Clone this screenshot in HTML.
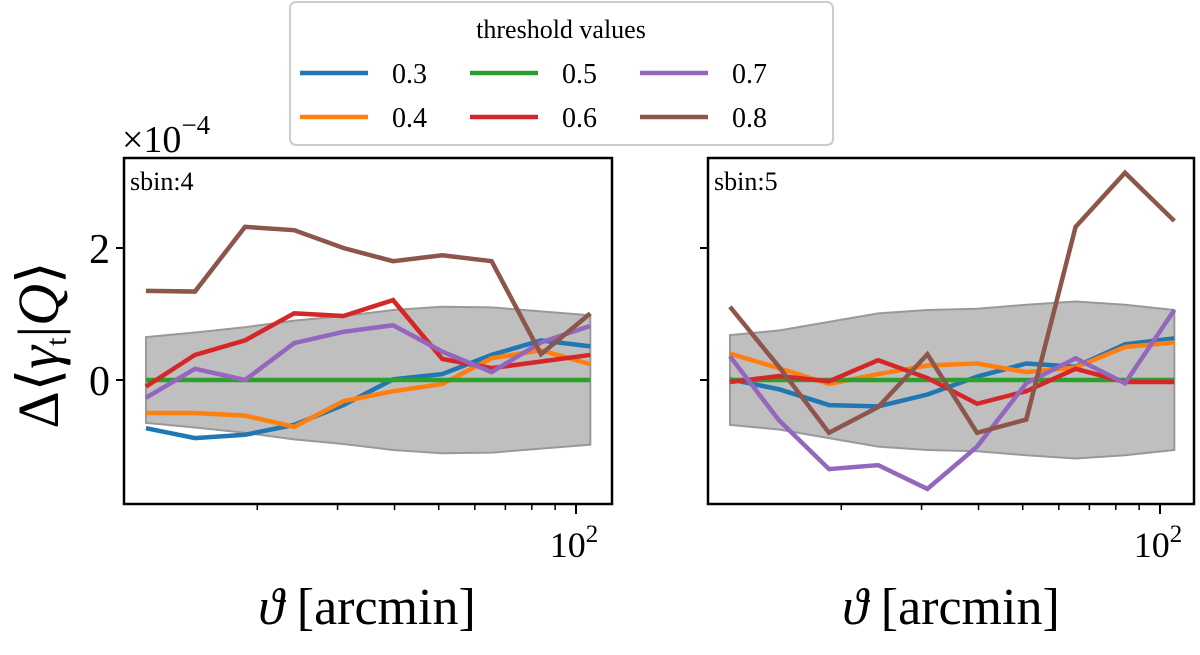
<!DOCTYPE html>
<html><head><meta charset="utf-8"><style>
html,body{margin:0;padding:0;background:#fff}
svg text{font-family:"Liberation Serif","DejaVu Serif",serif;fill:#000}
</style></head><body>
<svg id="chart" width="1200" height="650" xmlns="http://www.w3.org/2000/svg">
<g id="panels"></g>
<text x="122" y="152" font-size="38">×10<tspan dy="-18" font-size="27">−4</tspan></text>
<text transform="translate(58,345) rotate(-90)" text-anchor="middle" font-size="58">Δ⟨<tspan font-style="italic">γ</tspan><tspan font-size="30" dy="8">t</tspan><tspan dy="-8">|</tspan><tspan font-style="italic">Q</tspan>⟩</text>
<text x="367" y="624" text-anchor="middle" font-size="52"><tspan font-style="italic">ϑ</tspan> [arcmin]</text>
<text x="951" y="624" text-anchor="middle" font-size="52"><tspan font-style="italic">ϑ</tspan> [arcmin]</text>
<g>
<rect x="290" y="2" width="543" height="143" rx="6" fill="#fff" stroke="#ccc" stroke-width="2"/>
<text x="561" y="38" text-anchor="middle" font-size="26">threshold values</text>
<g id="legend-entries"></g>
</g>
</svg>
<script>
const theta=[11.4,14.6,18.8,24.1,30.9,39.7,50.9,65.3,83.8,107.5];
const labels=['0.3','0.4','0.5','0.6','0.7','0.8'];
const colors=['#1f77b4','#ff7f0e','#2ca02c','#d62728','#9467bd','#8c564b'];
const yTicks=[0,2];
const left03=[-0.73,-0.88,-0.83,-0.68,-0.38,0.01,0.09,0.38,0.6,0.51];
const left04=[-0.5,-0.5,-0.54,-0.71,-0.32,-0.17,-0.06,0.33,0.45,0.24];
const left05=[0,0,0,0,0,0,0,0,0,0];
const left06=[-0.1,0.38,0.6,1.01,0.97,1.21,0.32,0.18,0.28,0.38];
const left07=[-0.27,0.17,0,0.56,0.73,0.83,0.43,0.12,0.57,0.82];
const left08=[1.35,1.34,2.32,2.27,2.0,1.8,1.89,1.8,0.39,1.01];
const leftBand=[0.65,0.72,0.8,0.9,0.97,1.06,1.11,1.1,1.04,0.98];
const right03=[0.01,-0.14,-0.38,-0.4,-0.22,0.05,0.25,0.2,0.54,0.63];
const right04=[0.4,0.18,-0.06,0.09,0.22,0.25,0.12,0.19,0.5,0.57];
const right05=[0,0,0,0,0,0,0,0,0,0];
const right06=[-0.03,0.06,-0.02,0.3,0.03,-0.36,-0.17,0.17,-0.03,-0.03];
const right07=[0.36,-0.61,-1.35,-1.29,-1.65,-1.01,-0.05,0.33,-0.05,1.06];
const right08=[1.11,0.2,-0.8,-0.41,0.39,-0.8,-0.6,2.32,3.14,2.41];
const rightBand=[0.68,0.75,0.88,1.01,1.06,1.08,1.14,1.19,1.14,1.06];

const NS='http://www.w3.org/2000/svg';
function mk(tag,attrs,parent){const e=document.createElementNS(NS,tag);for(const k in attrs)e.setAttribute(k,attrs[k]);parent.appendChild(e);return e;}
const panelsG=document.getElementById('panels');
const decade=456;
function panel(x0,x1,x100,name,series,band){
  const g=mk('g',{},panelsG);
  
  
  const top=158,bot=504;
  const sx=t=>x100+decade*Math.log10(t/100);
  const sy=v=>380-66*v;
  let up=theta.map((t,i)=>sx(t)+','+sy(band[i]));
  let lo=theta.map((t,i)=>sx(t)+','+sy(-band[i])).reverse();
  const b=mk('polygon',{points:up.concat(lo).join(' '),fill:'#bfbfbf',stroke:'#999','stroke-width':2},g);
  
  
  series.forEach((s,k)=>{
    const p=mk('polyline',{points:theta.map((t,i)=>sx(t)+','+sy(s[i])).join(' '),fill:'none',stroke:colors[k],'stroke-width':4.5,'stroke-linejoin':'miter'},g);
    
    
  });
  const r=mk('rect',{x:x0,y:top,width:x1-x0,height:bot-top,fill:'none',stroke:'#000','stroke-width':2.5},g);
  
  
  yTicks.forEach(v=>{mk('line',{x1:x0-8,x2:x0,y1:sy(v),y2:sy(v),stroke:'#000','stroke-width':2},g);
    if(name==='panel-left'){const t=mk('text',{x:x0-14,y:sy(v)+15,'text-anchor':'end','font-size':42},g);t.textContent=v;
      
      }});
  [20,30,40,50,60,70,80,90].forEach(m=>mk('line',{x1:sx(m),x2:sx(m),y1:bot,y2:bot+6,stroke:'#000','stroke-width':1.5},g));
  mk('line',{x1:sx(100),x2:sx(100),y1:bot,y2:bot+10,stroke:'#000','stroke-width':2},g);
  const tl=mk('text',{x:sx(100)-2,y:bot+53,'text-anchor':'middle','font-size':36},g);
  tl.innerHTML='10<tspan dy="-15" font-size="25">2</tspan>';
  
  
  const lab=mk('text',{x:x0+6,y:top+32,'font-size':26},g);
  lab.textContent=name==='panel-left'?'sbin:4':'sbin:5';
  
  
}
panel(124,612,576,'panel-left',[left03,left04,left05,left06,left07,left08],leftBand);
panel(708,1194,1160,'panel-right',[right03,right04,right05,right06,right07,right08],rightBand);
const le=document.getElementById('legend-entries');
labels.forEach((l,k)=>{
  const col=Math.floor(k/2),row=k%2;
  const x=300+col*170,y=73+row*44;
  const g=mk('g',{},le);
  
  
  mk('line',{x1:x,x2:x+68,y1:y,y2:y,stroke:colors[k],'stroke-width':4.5},g);
  const t=mk('text',{x:x+92,y:y+10,'font-size':28},g);t.textContent=l;
});
</script>
</body></html>
